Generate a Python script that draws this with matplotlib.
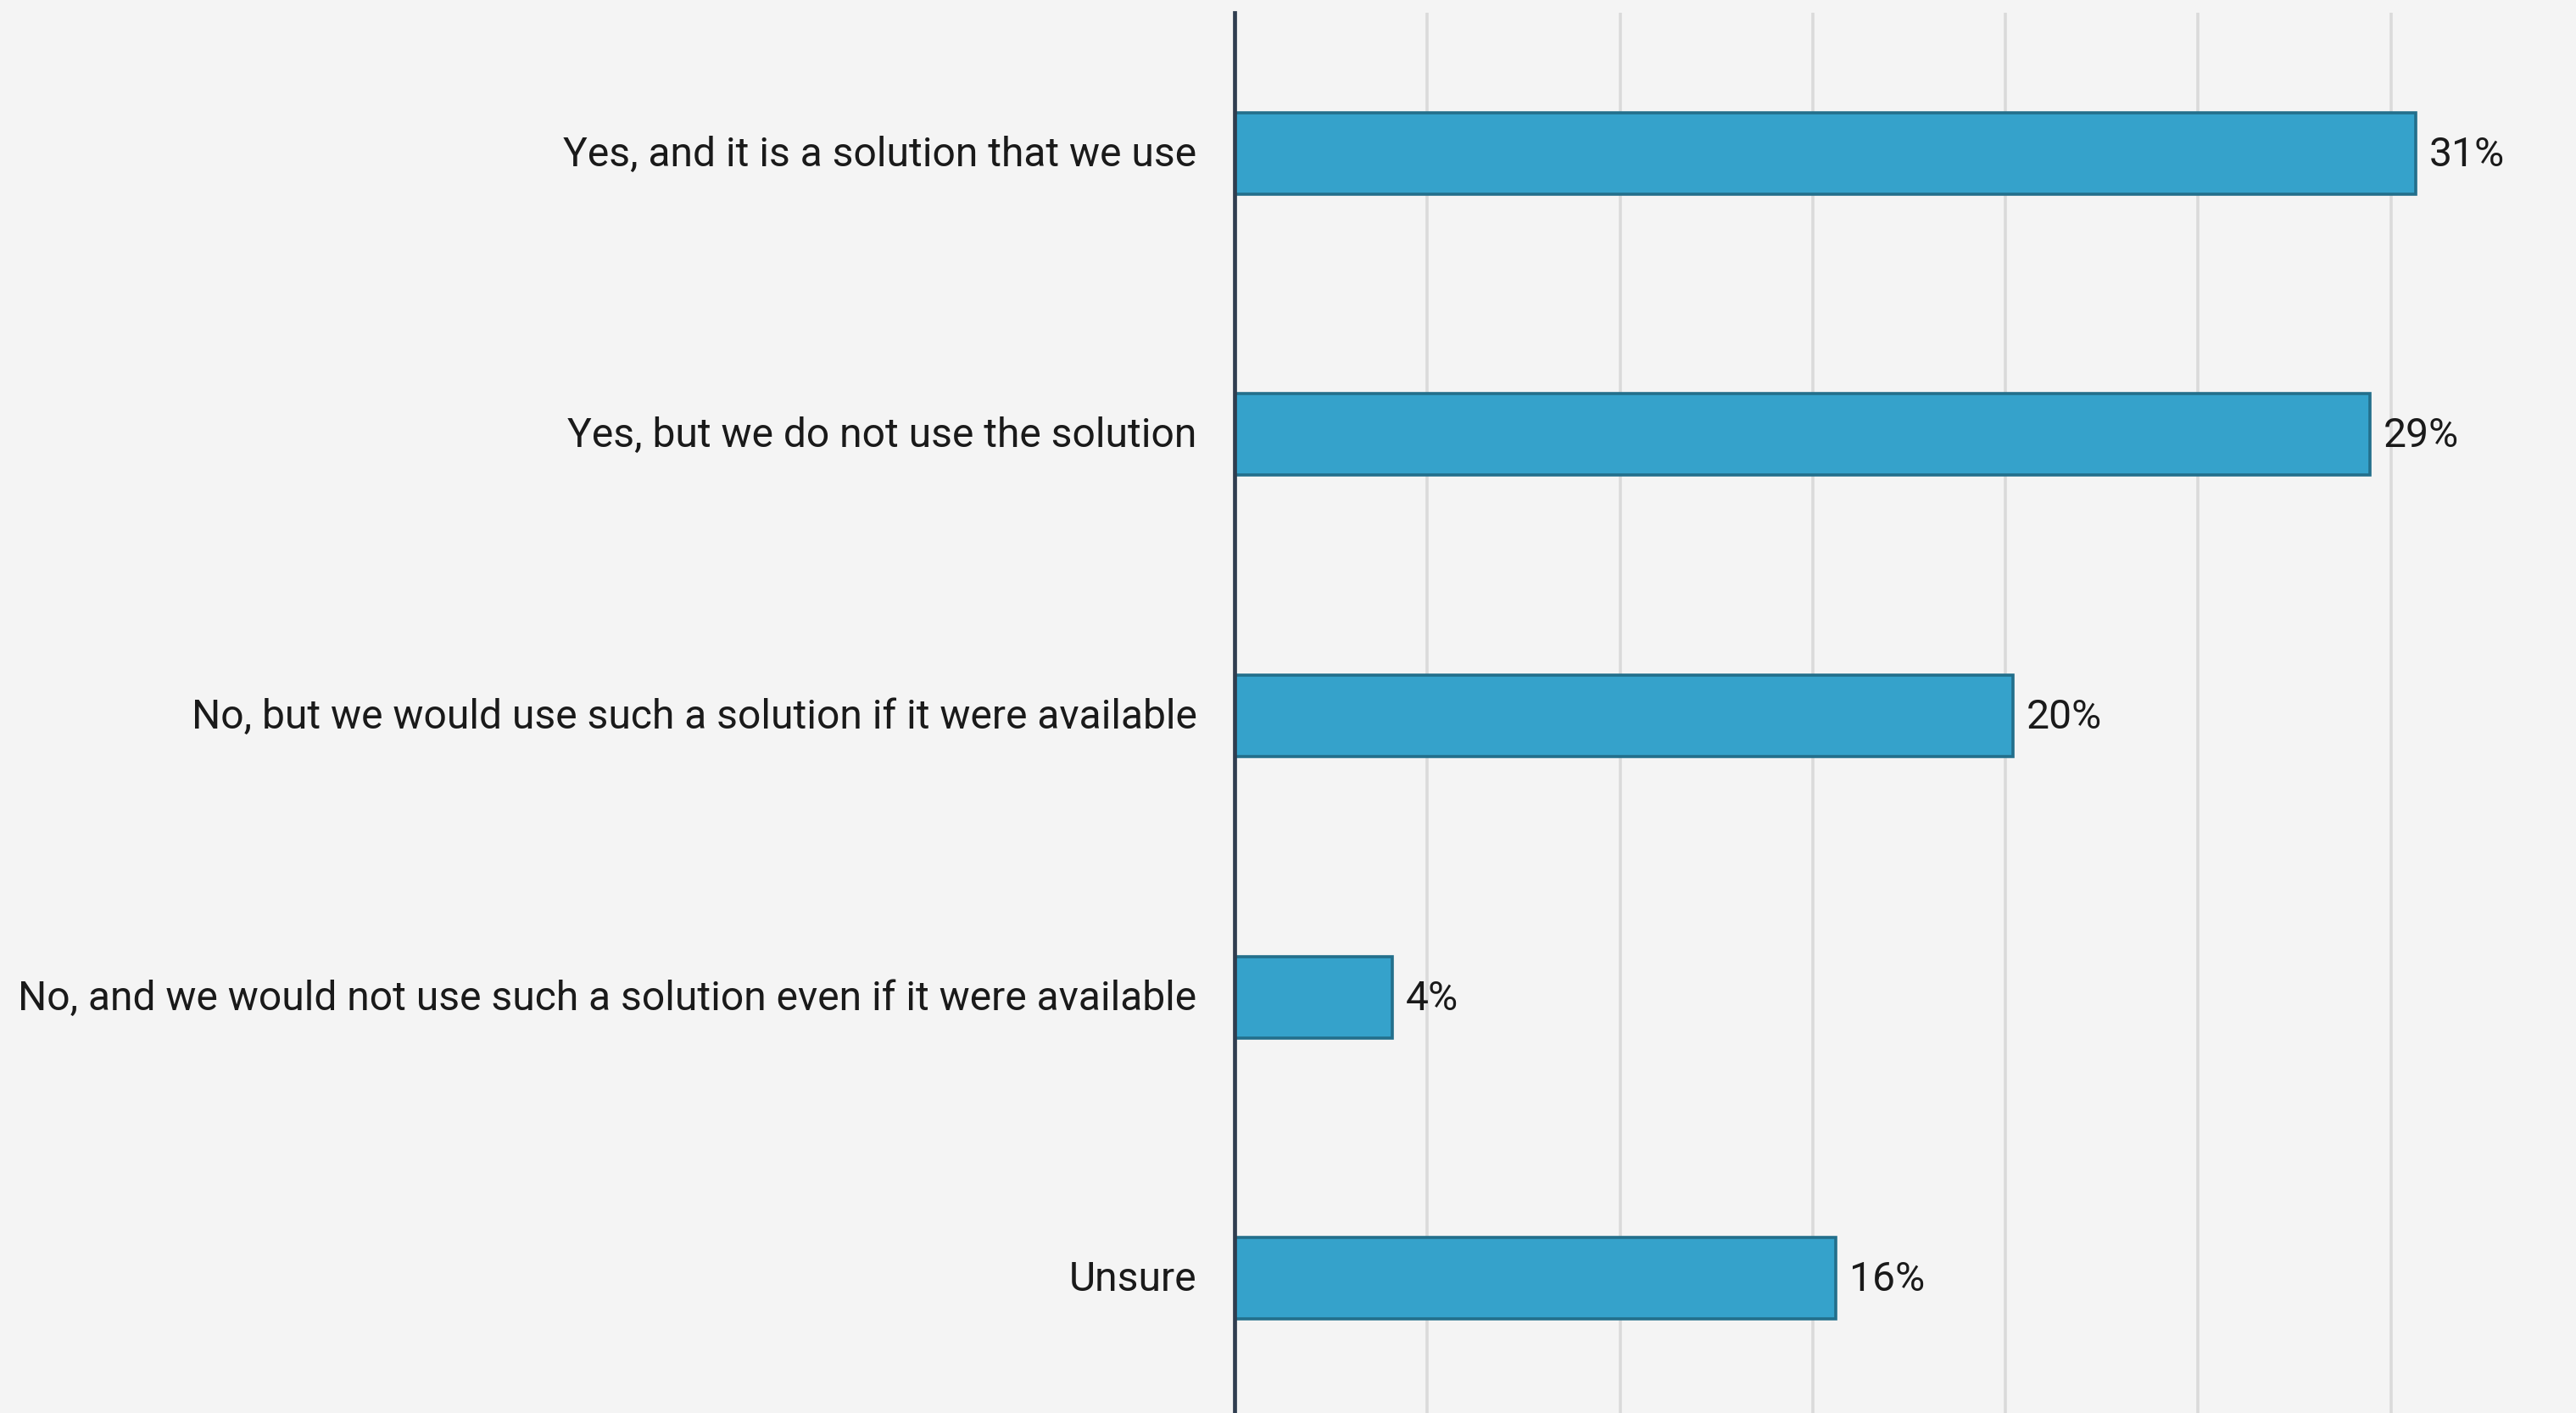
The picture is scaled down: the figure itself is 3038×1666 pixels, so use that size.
import numpy as np
import matplotlib
matplotlib.use("Agg")
import matplotlib.pyplot as plt
import matplotlib.transforms as mtransforms

# survey answers, top to bottom
categories = [
    "Yes, and it is a solution that we use",
    "Yes, but we do not use the solution",
    "No, but we would use such a solution if it were available",
    "No, and we would not use such a solution even if it were available",
    "Unsure",
]
shares = [30.65, 29.45, 20.2, 4.1, 15.6]

plt.rcParams['font.family'] = ['Roboto', 'DejaVu Sans']

W, H, DPI = 3038, 1666, 200
fig = plt.figure(figsize=(W / DPI, H / DPI), dpi=DPI)
fig.patch.set_facecolor('#f4f4f4')

ax = fig.add_axes([1456 / W, -7 / H, (3047 - 1456) / W, (1673 - 15) / H])
ax.set_facecolor('#f4f4f4')

y = np.arange(len(categories))
ax.barh(y, shares, height=0.29, color='#35a2cb', edgecolor='#236f8b', linewidth=1.3, zorder=3)

# nudge text up a touch so it sits on the bar's middle
lift = mtransforms.ScaledTranslation(0, 3 / DPI, fig.dpi_scale_trans)

for yi, v in zip(y, shares):
    ax.text(v + 0.35, yi, f"{v:.0f}%", va='center_baseline', ha='left',
            fontsize=17.3, color='#1a1a1a', transform=ax.transData + lift)

ax.set_xlim(0, 35)
ax.set_ylim(len(categories) - 0.5, -0.5)
ax.set_xticks(np.arange(5, 35, 5))
ax.xaxis.grid(True, color='#dadada', linewidth=1.3, zorder=0)
ax.tick_params(axis='x', length=0, labelbottom=False)
ax.set_yticks(y)
ax.set_yticklabels(categories, fontsize=17.3, color='#1a1a1a', va='center_baseline')
ax.tick_params(axis='y', length=0, pad=16)
for lab in ax.get_yticklabels():
    lab.set_transform(lab.get_transform() + lift)

for side in ['top', 'right', 'bottom']:
    ax.spines[side].set_visible(False)
ax.spines['left'].set_color('#2f3d4f')
ax.spines['left'].set_linewidth(1.7)
ax.spines['left'].set_zorder(4)

fig.savefig("out.png", dpi=DPI, facecolor=fig.get_facecolor())
